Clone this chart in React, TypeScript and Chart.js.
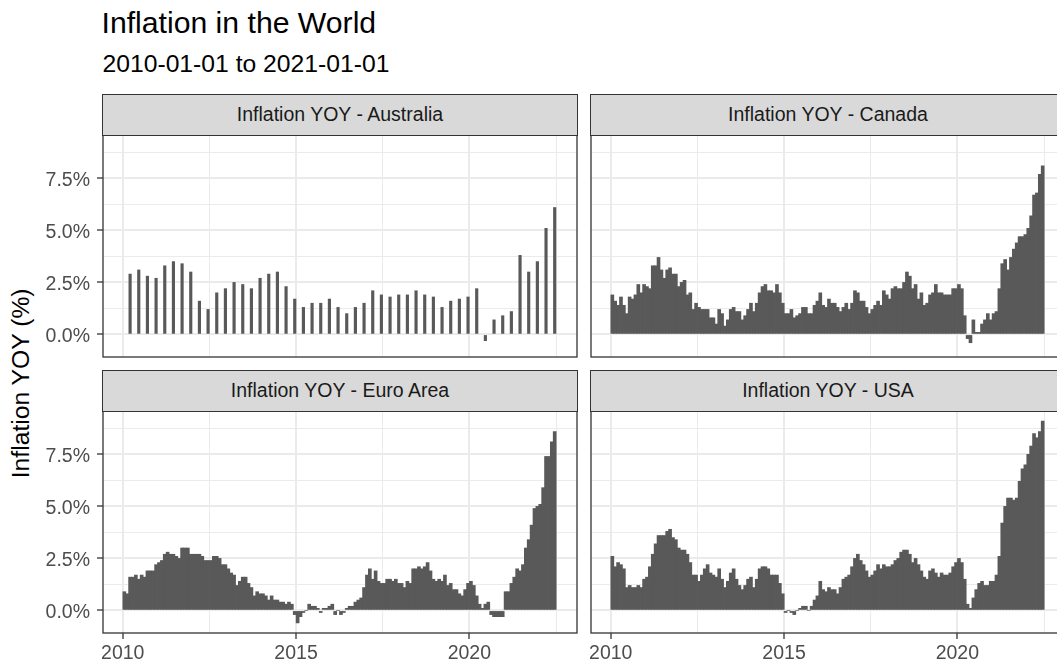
import React, { useEffect, useRef } from "react";
import { Chart, registerables } from "chart.js";

Chart.register(...registerables);

// ---------------- DATA ----------------
const START_YEAR = 2010;
const titleText = "Inflation in the World";
const subtitleText = "2010-01-01 to 2021-01-01";
const yAxisTitle = "Inflation YOY (%)";
const panelTitles = [
  "Inflation YOY - Australia",
  "Inflation YOY - Canada",
  "Inflation YOY - Euro Area",
  "Inflation YOY - USA",
];

// x ticks (months since Jan 2010) and their labels
const xGridMonths = [0, 30, 60, 90, 120, 150];
const xMajorMonths = [0, 60, 120];
const xTickLabels = ["2010", "2015", "2020"];

// y ticks
const yGridValues = [0, 1.25, 2.5, 3.75, 5, 6.25, 7.5, 8.75];
const yMajorValues = [0, 2.5, 5, 7.5];
const yTickLabels = ["0.0%", "2.5%", "5.0%", "7.5%"];

// Australia: quarterly, Q1 2010 .. Q2 2022 (dated at quarter end months)
const australia = [
  2.9, 3.1, 2.8, 2.7, 3.3, 3.5, 3.4, 3.0, 1.6, 1.2, 2.0, 2.2,
  2.5, 2.4, 2.2, 2.7, 2.9, 3.0, 2.3, 1.7, 1.3, 1.5, 1.5, 1.7,
  1.3, 1.0, 1.3, 1.5, 2.1, 1.9, 1.8, 1.9, 1.9, 2.1, 1.9, 1.8,
  1.3, 1.6, 1.7, 1.8, 2.2, -0.3, 0.7, 0.9, 1.1, 3.8, 3.0, 3.5,
  5.1, 6.1,
];

// Monthly: Jan 2010 .. Jun 2022
const canada = [
  1.9, 1.6, 1.4, 1.8, 1.4, 1.0, 1.8, 1.7, 1.9, 2.4, 2.0, 2.4,
  2.3, 2.2, 3.3, 3.3, 3.7, 3.1, 2.7, 3.1, 3.2, 2.9, 2.9, 2.3,
  2.5, 2.6, 1.9, 2.0, 1.2, 1.5, 1.3, 1.2, 1.2, 1.2, 0.8, 0.8,
  0.5, 1.2, 1.0, 0.4, 0.7, 1.2, 1.3, 1.1, 1.1, 0.7, 0.9, 1.2,
  1.5, 1.1, 1.5, 2.0, 2.3, 2.4, 2.1, 2.1, 2.0, 2.4, 2.0, 1.5,
  1.0, 1.0, 1.2, 0.8, 0.9, 1.0, 1.3, 1.3, 1.0, 1.0, 1.4, 1.6,
  2.0, 1.4, 1.3, 1.7, 1.5, 1.5, 1.3, 1.1, 1.3, 1.5, 1.2, 1.5,
  2.1, 2.0, 1.6, 1.6, 1.3, 1.0, 1.2, 1.4, 1.6, 1.4, 2.1, 1.9,
  1.7, 2.2, 2.3, 2.2, 2.2, 2.5, 3.0, 2.8, 2.2, 2.4, 1.7, 2.0,
  1.4, 1.5, 1.9, 2.0, 2.4, 2.0, 2.0, 1.9, 1.9, 1.9, 2.2, 2.2,
  2.4, 2.2, 0.9, -0.2, -0.4, 0.7, 0.1, 0.1, 0.5, 0.7, 1.0, 0.7,
  1.0, 1.1, 2.2, 3.4, 3.6, 3.1, 3.7, 4.1, 4.4, 4.7, 4.7, 4.8,
  5.1, 5.7, 6.7, 6.8, 7.7, 8.1,
];

const euroArea = [
  0.9, 0.8, 1.6, 1.6, 1.7, 1.5, 1.7, 1.6, 1.9, 1.9, 1.9, 2.2,
  2.3, 2.4, 2.7, 2.8, 2.7, 2.7, 2.6, 2.5, 3.0, 3.0, 3.0, 2.7,
  2.7, 2.7, 2.7, 2.6, 2.4, 2.4, 2.4, 2.6, 2.6, 2.5, 2.2, 2.2,
  2.0, 1.8, 1.7, 1.2, 1.4, 1.6, 1.6, 1.3, 1.1, 0.7, 0.9, 0.8,
  0.8, 0.7, 0.5, 0.7, 0.5, 0.5, 0.4, 0.4, 0.3, 0.4, 0.3, -0.2,
  -0.6, -0.3, -0.1, 0.0, 0.3, 0.2, 0.2, 0.1, -0.1, 0.1, 0.1, 0.2,
  0.3, -0.2, 0.0, -0.2, -0.1, 0.1, 0.2, 0.2, 0.4, 0.5, 0.6, 1.1,
  1.7, 2.0, 1.5, 1.9, 1.4, 1.3, 1.3, 1.5, 1.5, 1.4, 1.5, 1.3,
  1.3, 1.1, 1.4, 1.3, 2.0, 2.0, 2.1, 2.0, 2.1, 2.3, 1.9, 1.5,
  1.4, 1.5, 1.4, 1.7, 1.2, 1.3, 1.0, 1.0, 0.8, 0.7, 1.0, 1.3,
  1.4, 1.2, 0.7, 0.3, 0.1, 0.3, 0.4, -0.2, -0.3, -0.3, -0.3, -0.3,
  0.9, 0.9, 1.3, 1.6, 2.0, 1.9, 2.2, 3.0, 3.4, 4.1, 4.9, 5.0,
  5.1, 5.9, 7.4, 7.4, 8.1, 8.6,
];

const usa = [
  2.6, 2.1, 2.3, 2.2, 2.0, 1.1, 1.2, 1.1, 1.1, 1.2, 1.1, 1.5,
  1.6, 2.1, 2.7, 3.2, 3.6, 3.6, 3.6, 3.8, 3.9, 3.5, 3.4, 3.0,
  2.9, 2.9, 2.7, 2.3, 1.7, 1.7, 1.4, 1.7, 2.0, 2.2, 1.8, 1.7,
  1.6, 2.0, 1.5, 1.1, 1.4, 1.8, 2.0, 1.5, 1.2, 1.0, 1.2, 1.5,
  1.6, 1.1, 1.5, 2.0, 2.1, 2.1, 2.0, 1.7, 1.7, 1.7, 1.3, 0.8,
  -0.1, 0.0, -0.1, -0.2, 0.0, 0.1, 0.2, 0.2, 0.0, 0.2, 0.5, 0.7,
  1.4, 1.0, 0.9, 1.1, 1.0, 1.0, 0.8, 1.1, 1.5, 1.6, 1.7, 2.1,
  2.5, 2.7, 2.4, 2.2, 1.9, 1.6, 1.7, 1.9, 2.2, 2.0, 2.2, 2.1,
  2.1, 2.2, 2.4, 2.5, 2.8, 2.9, 2.9, 2.7, 2.3, 2.5, 2.2, 1.9,
  1.6, 1.5, 1.9, 2.0, 1.8, 1.6, 1.8, 1.7, 1.7, 1.8, 2.1, 2.3,
  2.5, 2.3, 1.5, 0.3, 0.1, 0.6, 1.0, 1.3, 1.4, 1.2, 1.2, 1.4,
  1.4, 1.7, 2.6, 4.2, 5.0, 5.4, 5.4, 5.3, 5.4, 6.2, 6.8, 7.0,
  7.5, 7.9, 8.5, 8.3, 8.6, 9.1,
];

// ---------------- SETTINGS ----------------
const FONT = '"Liberation Sans", Arial, Helvetica, sans-serif';
const BAR = "#595959";
const GRID = "#EBEBEB";
const DARK = "#333333";
const X_MIN = -6.83;
const X_MAX = 157.27;
const DATE_POS = 0.55; // position of a date within its month

const allValues = [...australia, ...canada, ...euroArea, ...usa];
const dataMin = Math.min(0, ...allValues);
const dataMax = Math.max(...allValues);
const yPad = (dataMax - dataMin) * 0.05;
const Y_MIN = dataMin - yPad;
const Y_MAX = dataMax + yPad;

const monthlyX = canada.map((_, i) => i + DATE_POS);
const quarterlyX = australia.map((_, i) => 2 + 3 * i + DATE_POS);

const PW = 474;
const PH = 222;
const COL_L = [103, 591];
const ROW_T = [135, 411];

const near = (a: number, b: number) => Math.abs(a - b) < 1e-6;
const isMajorY = (v: number) => yMajorValues.some((m) => near(m, v));
const isMajorX = (v: number) => xMajorMonths.some((m) => near(m, v));

const borderPlugin = {
  id: "panelBorder",
  afterDatasetsDraw(chart: any) {
    const { ctx, chartArea: a } = chart;
    ctx.save();
    ctx.strokeStyle = DARK;
    ctx.lineWidth = 1.3;
    ctx.strokeRect(a.left, a.top, a.right - a.left, a.bottom - a.top);
    ctx.restore();
  },
};

type PanelProps = {
  col: number;
  row: number;
  xs: number[];
  values: number[];
  thickness: number;
};

function Panel({ col, row, xs, values, thickness }: PanelProps) {
  const ref = useRef<HTMLCanvasElement>(null);
  const showY = col === 0;
  const showX = row === 1;
  const padL = showY ? 0 : 12;
  const padR = 12;
  const padT = 20;
  const padB = showX ? 0 : 20;
  const yWidth = showY ? COL_L[0] : 0;
  const xHeight = showX ? 40 : 0;
  const cLeft = showY ? 0 : COL_L[1] - padL;
  const cTop = ROW_T[row] - padT;
  const cWidth = padL + yWidth + PW + padR;
  const cHeight = padT + PH + xHeight + padB;

  useEffect(() => {
    const chart = new Chart(ref.current as HTMLCanvasElement, {
      type: "bar",
      data: {
        datasets: [
          {
            data: xs.map((x, i) => ({ x, y: values[i] })),
            backgroundColor: BAR,
            borderWidth: 0,
            barThickness: thickness,
          } as any,
        ],
      },
      options: {
        animation: false,
        responsive: false,
        devicePixelRatio: 1,
        events: [],
        layout: { padding: { left: padL, right: padR, top: padT, bottom: padB } },
        plugins: { legend: { display: false }, tooltip: { enabled: false } },
        scales: {
          x: {
            type: "linear",
            min: X_MIN,
            max: X_MAX,
            bounds: "data",
            offset: false,
            afterBuildTicks: (s: any) => {
              s.ticks = xGridMonths.map((v) => ({ value: v }));
            },
            afterFit: (s: any) => {
              s.height = xHeight;
            },
            grid: {
              offset: false,
              color: GRID,
              lineWidth: (c: any) => (c.tick && isMajorX(c.tick.value) ? 2 : 1),
              drawTicks: showX,
              tickLength: 6,
              tickWidth: 1.3,
              tickColor: (c: any) =>
                c.tick && isMajorX(c.tick.value) ? DARK : "rgba(0,0,0,0)",
            },
            border: { display: false },
            ticks: {
              display: showX,
              autoSkip: false,
              maxRotation: 0,
              minRotation: 0,
              padding: 3,
              color: "#4D4D4D",
              font: { family: FONT, size: 19.5 },
              callback: (v: any) => {
                const k = xMajorMonths.findIndex((m) => near(m, Number(v)));
                return k >= 0 ? xTickLabels[k] : "";
              },
            },
          },
          y: {
            type: "linear",
            min: Y_MIN,
            max: Y_MAX,
            bounds: "data",
            afterBuildTicks: (s: any) => {
              s.ticks = yGridValues.map((v) => ({ value: v }));
            },
            afterFit: (s: any) => {
              s.width = yWidth;
            },
            grid: {
              color: GRID,
              lineWidth: (c: any) => (c.tick && isMajorY(c.tick.value) ? 2 : 1),
              drawTicks: showY,
              tickLength: 6,
              tickWidth: 1.3,
              tickColor: (c: any) =>
                c.tick && isMajorY(c.tick.value) ? DARK : "rgba(0,0,0,0)",
            },
            border: { display: false },
            ticks: {
              display: showY,
              autoSkip: false,
              padding: 7,
              labelOffset: 2.6,
              color: "#4D4D4D",
              font: { family: FONT, size: 19.5 },
              callback: (v: any) => {
                const k = yMajorValues.findIndex((m) => near(m, Number(v)));
                return k >= 0 ? yTickLabels[k] : "";
              },
            },
          },
        },
      } as any,
      plugins: [borderPlugin],
    });
    return () => chart.destroy();
  }, []);

  return (
    <canvas
      ref={ref}
      width={cWidth}
      height={cHeight}
      style={{ position: "absolute", left: cLeft, top: cTop, width: cWidth, height: cHeight }}
    />
  );
}

function Strip({ col, row, text }: { col: number; row: number; text: string }) {
  return (
    <div
      style={{
        position: "absolute",
        left: COL_L[col] - 0.65,
        top: ROW_T[row] - 40.65,
        width: PW + 1.3,
        height: 41.3,
        boxSizing: "border-box",
        border: `1.3px solid ${DARK}`,
        background: "#D9D9D9",
        display: "flex",
        alignItems: "center",
        justifyContent: "center",
        fontSize: 19.5,
        color: "#1A1A1A",
        whiteSpace: "nowrap",
      }}
    >
      {text}
    </div>
  );
}

export default function App() {
  const panels = [
    { col: 0, row: 0, xs: quarterlyX, values: australia, thickness: 2.5 },
    { col: 1, row: 0, xs: monthlyX, values: canada, thickness: 3 },
    { col: 0, row: 1, xs: monthlyX, values: euroArea, thickness: 3 },
    { col: 1, row: 1, xs: monthlyX, values: usa, thickness: 3 },
  ];
  return (
    <div
      style={{
        position: "fixed",
        left: 0,
        top: 0,
        width: 1057,
        height: 663,
        overflow: "hidden",
        background: "#FFFFFF",
        fontFamily: FONT,
      }}
    >
      <div
        style={{
          position: "absolute",
          left: 101.5,
          top: 7.7,
          fontSize: 30.2,
          lineHeight: "30.2px",
          color: "#000",
          whiteSpace: "nowrap",
        }}
      >
        {titleText}
      </div>
      <div
        style={{
          position: "absolute",
          left: 102.5,
          top: 52.4,
          fontSize: 24.7,
          lineHeight: "24.7px",
          color: "#000",
          whiteSpace: "nowrap",
        }}
      >
        {subtitleText}
      </div>
      <div
        style={{
          position: "absolute",
          left: 21.4 - 200,
          top: 383.5 - 12.35,
          width: 400,
          height: 24.7,
          fontSize: 24.7,
          lineHeight: "24.7px",
          textAlign: "center",
          color: "#000",
          whiteSpace: "nowrap",
          transform: "rotate(-90deg)",
          transformOrigin: "50% 50%",
        }}
      >
        {yAxisTitle}
      </div>
      {panels.map((p, i) => (
        <Panel key={i} {...p} />
      ))}
      {panels.map((p, i) => (
        <Strip key={"s" + i} col={p.col} row={p.row} text={panelTitles[i]} />
      ))}
    </div>
  );
}
